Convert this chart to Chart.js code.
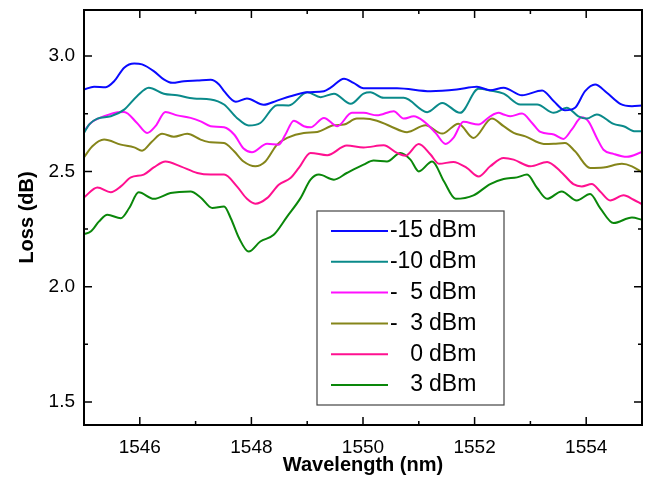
<html>
<head>
<meta charset="utf-8"/>
<title>Loss vs Wavelength</title>
<script src="https://cdn.jsdelivr.net/npm/chart.js"></script>
<style>
  body { margin: 0; background: #fff; }
  #wrap { width: 646px; height: 484px; }
</style>
</head>
<body>
<div id="wrap"><canvas id="LossChart"></canvas></div>
<script>
// Loss (dB) against wavelength (nm), one trace per input power

const wl_m15 = [1545.00, 1545.18, 1545.39, 1545.54, 1545.72, 1545.90, 1546.04, 1546.25, 1546.43, 1546.58,
  1546.79, 1547.03, 1547.27, 1547.42, 1547.51, 1547.72, 1547.92, 1548.22, 1548.46, 1548.70,
  1549.00, 1549.30, 1549.42, 1549.66, 1549.83, 1550.01, 1550.61, 1551.21, 1551.68, 1552.04,
  1552.28, 1552.52, 1552.85, 1553.21, 1553.42, 1553.62, 1553.80, 1553.98, 1554.16, 1554.37,
  1554.61, 1554.82, 1555.00];
const loss_m15 = [2.855, 2.867, 2.865, 2.891, 2.950, 2.968, 2.964, 2.935, 2.899, 2.884,
  2.891, 2.894, 2.897, 2.877, 2.848, 2.802, 2.816, 2.789, 2.807, 2.826,
  2.843, 2.848, 2.863, 2.902, 2.884, 2.861, 2.861, 2.848, 2.855, 2.867,
  2.852, 2.863, 2.830, 2.851, 2.804, 2.765, 2.776, 2.848, 2.877, 2.841,
  2.793, 2.783, 2.786];

const wl_m10 = [1545.00, 1545.09, 1545.24, 1545.48, 1545.72, 1545.95, 1546.16, 1546.43, 1546.67, 1546.97,
  1547.27, 1547.51, 1547.74, 1547.95, 1548.16, 1548.46, 1548.67, 1549.00, 1549.24, 1549.48,
  1549.78, 1550.01, 1550.13, 1550.37, 1550.73, 1551.15, 1551.42, 1551.74, 1552.07, 1552.28,
  1552.52, 1552.82, 1553.12, 1553.42, 1553.65, 1553.86, 1554.01, 1554.19, 1554.49, 1554.67,
  1554.88, 1555.00];
const loss_m10 = [2.667, 2.703, 2.729, 2.739, 2.768, 2.826, 2.863, 2.837, 2.830, 2.816,
  2.812, 2.790, 2.732, 2.699, 2.710, 2.787, 2.786, 2.843, 2.822, 2.837,
  2.793, 2.837, 2.843, 2.819, 2.819, 2.757, 2.797, 2.754, 2.858, 2.851,
  2.837, 2.790, 2.790, 2.754, 2.776, 2.739, 2.729, 2.747, 2.706, 2.696,
  2.674, 2.674];

const wl_m5 = [1545.00, 1545.12, 1545.36, 1545.60, 1545.72, 1545.95, 1546.13, 1546.28, 1546.46, 1546.67,
  1546.91, 1547.09, 1547.27, 1547.51, 1547.69, 1547.86, 1548.01, 1548.28, 1548.49, 1548.61,
  1548.76, 1548.94, 1549.06, 1549.30, 1549.54, 1549.80, 1550.01, 1550.25, 1550.55, 1550.73,
  1550.91, 1551.09, 1551.30, 1551.48, 1551.62, 1551.80, 1552.07, 1552.28, 1552.43, 1552.52,
  1552.64, 1552.85, 1553.03, 1553.18, 1553.42, 1553.59, 1553.74, 1553.92, 1554.04, 1554.19,
  1554.31, 1554.49, 1554.73, 1555.00];
const loss_m5 = [2.674, 2.710, 2.739, 2.757, 2.758, 2.710, 2.667, 2.696, 2.758, 2.743,
  2.732, 2.717, 2.696, 2.691, 2.660, 2.599, 2.583, 2.620, 2.616, 2.660,
  2.720, 2.696, 2.691, 2.732, 2.696, 2.754, 2.754, 2.743, 2.761, 2.729,
  2.739, 2.717, 2.667, 2.619, 2.645, 2.715, 2.703, 2.739, 2.754, 2.747,
  2.739, 2.751, 2.710, 2.671, 2.660, 2.641, 2.681, 2.735, 2.717, 2.645,
  2.594, 2.576, 2.563, 2.584];

const wl_m3 = [1545.00, 1545.15, 1545.36, 1545.66, 1545.90, 1546.04, 1546.22, 1546.40, 1546.61, 1546.85,
  1547.09, 1547.27, 1547.51, 1547.69, 1547.86, 1548.07, 1548.25, 1548.46, 1548.64, 1548.94,
  1549.18, 1549.48, 1549.66, 1549.89, 1550.01, 1550.25, 1550.49, 1550.79, 1551.12, 1551.42,
  1551.71, 1551.98, 1552.31, 1552.52, 1552.70, 1552.91, 1553.24, 1553.42, 1553.62, 1553.80,
  1554.07, 1554.31, 1554.64, 1554.82, 1555.00];
const loss_m3 = [2.561, 2.609, 2.638, 2.616, 2.604, 2.590, 2.630, 2.663, 2.650, 2.663,
  2.638, 2.626, 2.623, 2.587, 2.543, 2.522, 2.543, 2.616, 2.645, 2.667,
  2.671, 2.700, 2.703, 2.729, 2.729, 2.720, 2.696, 2.670, 2.700, 2.664,
  2.707, 2.645, 2.729, 2.696, 2.667, 2.652, 2.619, 2.620, 2.623, 2.587,
  2.515, 2.517, 2.533, 2.522, 2.496];

const wl_0 = [1545.00, 1545.24, 1545.48, 1545.66, 1545.84, 1546.07, 1546.25, 1546.46, 1546.73, 1547.03,
  1547.27, 1547.51, 1547.74, 1547.92, 1548.07, 1548.28, 1548.49, 1548.70, 1548.85, 1549.06,
  1549.36, 1549.71, 1550.01, 1550.37, 1550.61, 1550.76, 1551.00, 1551.21, 1551.36, 1551.62,
  1551.86, 1552.07, 1552.28, 1552.52, 1552.70, 1553.00, 1553.30, 1553.54, 1553.77, 1553.92,
  1554.10, 1554.25, 1554.43, 1554.67, 1554.85, 1555.00];
const loss_0 = [2.387, 2.430, 2.410, 2.435, 2.474, 2.486, 2.517, 2.543, 2.522, 2.493,
  2.486, 2.486, 2.435, 2.381, 2.360, 2.384, 2.442, 2.471, 2.515, 2.580,
  2.570, 2.612, 2.604, 2.613, 2.580, 2.568, 2.619, 2.573, 2.533, 2.541,
  2.515, 2.478, 2.522, 2.558, 2.551, 2.522, 2.541, 2.500, 2.445, 2.435,
  2.445, 2.413, 2.374, 2.396, 2.377, 2.358];

const wl_p3 = [1545.00, 1545.12, 1545.27, 1545.42, 1545.66, 1545.81, 1545.98, 1546.25, 1546.55, 1546.91,
  1547.09, 1547.30, 1547.51, 1547.63, 1547.78, 1547.95, 1548.16, 1548.40, 1548.64, 1548.88,
  1549.06, 1549.21, 1549.48, 1549.71, 1550.01, 1550.19, 1550.43, 1550.67, 1550.85, 1551.00,
  1551.24, 1551.45, 1551.66, 1551.98, 1552.28, 1552.52, 1552.76, 1552.94, 1553.12, 1553.30,
  1553.56, 1553.83, 1554.07, 1554.25, 1554.49, 1554.82, 1555.00];
const loss_p3 = [2.228, 2.239, 2.283, 2.312, 2.297, 2.341, 2.409, 2.381, 2.406, 2.413,
  2.387, 2.341, 2.348, 2.297, 2.210, 2.152, 2.196, 2.225, 2.304, 2.384,
  2.464, 2.486, 2.464, 2.493, 2.529, 2.547, 2.543, 2.580, 2.551, 2.500,
  2.543, 2.457, 2.381, 2.396, 2.445, 2.467, 2.474, 2.486, 2.428, 2.381,
  2.413, 2.374, 2.402, 2.341, 2.276, 2.300, 2.290];

const powerLabels = ['-15 dBm', '-10 dBm', '- 5 dBm', '- 3 dBm', '0 dBm', '3 dBm'];
const lineColors = ['#0a0aff', '#0a8a8a', '#ff10ff', '#85851a', '#ff1090', '#0a870a'];
const wlSeries = [wl_m15, wl_m10, wl_m5, wl_m3, wl_0, wl_p3];
const lossSeries = [loss_m15, loss_m10, loss_m5, loss_m3, loss_0, loss_p3];

const xTicks = [1546, 1548, 1550, 1552, 1554];
const xMinorTicks = [1547, 1549, 1551, 1553];
const yTicks = [1.5, 2.0, 2.5, 3.0];
const yMinorTicks = [1.75, 2.25, 2.75];

const FONT = '"Liberation Sans", Arial, Helvetica, sans-serif';

// frame, inward ticks, axis titles and the boxed legend
const framePlugin = {
  id: 'frame',
  afterDraw(chart) {
    const ctx = chart.ctx;
    const a = chart.chartArea;
    const xs = chart.scales.x, ys = chart.scales.y;
    ctx.save();
    ctx.strokeStyle = '#000';
    ctx.lineWidth = 2;
    ctx.strokeRect(a.left, a.top, a.right - a.left, a.bottom - a.top);

    ctx.lineWidth = 1.5;
    ctx.beginPath();
    const tick = (vals, len) => {
      vals.forEach(v => {
        const px = xs.getPixelForValue(v);
        ctx.moveTo(px, a.bottom); ctx.lineTo(px, a.bottom - len);
        ctx.moveTo(px, a.top); ctx.lineTo(px, a.top + len);
      });
    };
    const ytick = (vals, len) => {
      vals.forEach(v => {
        const py = ys.getPixelForValue(v);
        ctx.moveTo(a.left, py); ctx.lineTo(a.left + len, py);
        ctx.moveTo(a.right, py); ctx.lineTo(a.right - len, py);
      });
    };
    tick(xTicks, 8); tick(xMinorTicks, 4);
    ytick(yTicks, 8); ytick(yMinorTicks, 4);
    ctx.stroke();

    // axis titles
    ctx.fillStyle = '#000';
    ctx.font = 'bold 20px ' + FONT;
    ctx.textAlign = 'center';
    ctx.textBaseline = 'middle';
    ctx.fillText('Wavelength (nm)', (a.left + a.right) / 2, 465);
    ctx.save();
    ctx.translate(27, (a.top + a.bottom) / 2);
    ctx.rotate(-Math.PI / 2);
    ctx.fillText('Loss (dB)', 0, 0);
    ctx.restore();

    // legend box
    const bx = 317, by = 211, bw = 187, bh = 194;
    ctx.fillStyle = '#fff';
    ctx.fillRect(bx, by, bw, bh);
    ctx.strokeStyle = '#444';
    ctx.lineWidth = 1.2;
    ctx.strokeRect(bx, by, bw, bh);
    ctx.font = '23px ' + FONT;
    ctx.textBaseline = 'middle';
    chart.data.datasets.forEach((ds, i) => {
      const y = 231 + i * 30.8;
      ctx.strokeStyle = ds.borderColor;
      ctx.lineWidth = 2;
      ctx.beginPath();
      ctx.moveTo(331, y); ctx.lineTo(388, y);
      ctx.stroke();
      const m = ds.label.match(/^(-?)\s*(\d+)\s*(.*)$/);
      ctx.fillStyle = '#000';
      if (m[1]) { ctx.textAlign = 'left'; ctx.fillText(m[1], 390, y); }
      ctx.textAlign = 'right'; ctx.fillText(m[2], 423, y);
      ctx.textAlign = 'left'; ctx.fillText(m[3], 429, y);
    });
    ctx.restore();
  }
};

const datasets = powerLabels.map((label, i) => ({
  label: label,
  data: wlSeries[i].map((w, j) => ({ x: w, y: lossSeries[i][j] })),
  borderColor: lineColors[i],
  backgroundColor: lineColors[i],
  borderWidth: 2,
  pointRadius: 0,
  cubicInterpolationMode: 'monotone',
  fill: false
}));

new Chart(document.getElementById('LossChart'), {
  type: 'line',
  data: { datasets: datasets },
  options: {
    responsive: true,
    maintainAspectRatio: false,
    animation: false,
    layout: { padding: { top: 10, right: 4, left: 0, bottom: 0 } },
    plugins: { legend: { display: false }, tooltip: { enabled: false } },
    scales: {
      x: {
        type: 'linear',
        min: 1545, max: 1555,
        afterBuildTicks: s => { s.ticks = xTicks.map(v => ({ value: v })); },
        afterFit: s => { s.height = 59; s.paddingLeft = 0; s.paddingRight = 0; },
        grid: { display: false, drawTicks: false },
        border: { display: false },
        ticks: { color: '#000', padding: 11, font: { family: FONT, size: 19 }, callback: v => String(v) }
      },
      y: {
        type: 'linear',
        min: 1.4, max: 3.2,
        afterBuildTicks: s => { s.ticks = yTicks.map(v => ({ value: v })); },
        afterFit: s => { s.width = 84; s.paddingTop = 0; s.paddingBottom = 0; },
        grid: { display: false, drawTicks: false },
        border: { display: false },
        ticks: { color: '#000', padding: 9, font: { family: FONT, size: 19 }, callback: v => v.toFixed(1) }
      }
    }
  },
  plugins: [framePlugin]
});
</script>
</body>
</html>
